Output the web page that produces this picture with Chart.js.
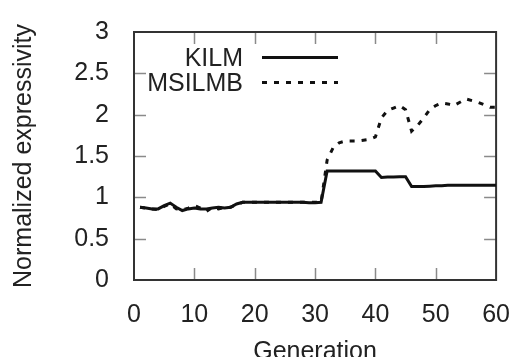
<!DOCTYPE html>
<html>
<head>
<meta charset="utf-8">
<script src="https://cdn.jsdelivr.net/npm/chart.js@4/dist/chart.umd.min.js"></script>
<style>
  html, body { margin: 0; padding: 0; background: #fff; }
  #wrap { width: 522px; height: 357px; position: relative; }
</style>
</head>
<body>
<div id="wrap"><canvas id="c" width="522" height="357"></canvas></div>
<script>
// ---- data ----
const generations = [1,2,3,4,5,6,7,8,9,10,11,12,13,14,15,16,17,18,19,20,
  21,22,23,24,25,26,27,28,29,30,31,32,33,34,35,36,37,38,39,40,
  41,42,43,44,45,46,47,48,49,50,51,52,53,54,55,56,57,58,59,60];
const kilm = [0.88,0.87,0.86,0.86,0.90,0.93,0.88,0.84,0.86,0.87,
  0.86,0.86,0.87,0.88,0.87,0.88,0.92,0.94,0.94,0.94,
  0.94,0.94,0.94,0.94,0.94,0.94,0.94,0.94,0.935,0.935,
  0.94,1.32,1.32,1.32,1.32,1.32,1.32,1.32,1.32,1.32,
  1.24,1.245,1.245,1.25,1.25,1.13,1.13,1.13,1.135,1.14,
  1.14,1.145,1.145,1.145,1.145,1.145,1.145,1.145,1.145,1.145];
const msilmb = [0.88,0.87,0.86,0.85,0.89,0.92,0.86,0.85,0.87,0.90,
  0.87,0.83,0.88,0.86,0.88,0.88,0.91,0.94,0.94,0.94,
  0.94,0.94,0.94,0.94,0.94,0.94,0.94,0.94,0.94,0.94,
  0.94,1.45,1.60,1.66,1.68,1.68,1.68,1.69,1.70,1.73,
  1.96,2.05,2.08,2.11,2.06,1.80,1.87,1.96,2.06,2.11,
  2.14,2.13,2.11,2.15,2.19,2.17,2.15,2.12,2.09,2.09];
const seriesNames = ['KILM', 'MSILMB'];
const xTickValues = [0,10,20,30,40,50,60];
const yTickValues = [0,0.5,1,1.5,2,2.5,3];
const xTitle = 'Generation';
const yTitle = 'Normalized expressivity';

// ---- chart ----
const FONT = "'Liberation Sans', Arial, Helvetica, sans-serif";
const FS = 25;
const toPts = (ys) => generations.map((g, i) => ({x: g, y: ys[i]}));

const framePlugin = {
  id: 'frame',
  beforeDatasetsDraw(chart) {
    const {ctx, chartArea: a, scales: {x, y}} = chart;
    ctx.save();
    ctx.strokeStyle = '#8a8a8a';
    ctx.lineWidth = 1.5;
    const TL = 12;
    ctx.beginPath();
    xTickValues.forEach(v => {
      if (v === x.min || v === x.max) return;
      const px = Math.round(x.getPixelForValue(v)) + 0.5;
      ctx.moveTo(px, a.bottom); ctx.lineTo(px, a.bottom - TL);
      ctx.moveTo(px, a.top); ctx.lineTo(px, a.top + TL);
    });
    yTickValues.forEach(v => {
      if (v === y.min || v === y.max) return;
      const py = Math.round(y.getPixelForValue(v)) + 0.5;
      ctx.moveTo(a.left, py); ctx.lineTo(a.left + TL, py);
      ctx.moveTo(a.right, py); ctx.lineTo(a.right - TL, py);
    });
    ctx.stroke();
    ctx.strokeStyle = '#333';
    ctx.lineWidth = 2;
    ctx.strokeRect(a.left, a.top, a.right - a.left, a.bottom - a.top);
    ctx.restore();
  }
};

const keyPlugin = {
  id: 'key',
  afterDatasetsDraw(chart) {
    const {ctx, chartArea: a} = chart;
    ctx.save();
    ctx.font = FS + 'px ' + FONT;
    ctx.textAlign = 'right';
    ctx.textBaseline = 'middle';
    chart.data.datasets.forEach((ds, i) => {
      const cy = a.top + 27 + i * 25;
      ctx.fillStyle = '#222';
      ctx.fillText(ds.label, a.left + 109, cy);
      ctx.strokeStyle = ds.borderColor;
      ctx.lineWidth = ds.borderWidth;
      ctx.setLineDash(ds.borderDash || []);
      ctx.beginPath();
      ctx.moveTo(a.left + 128, cy - 1.5);
      ctx.lineTo(a.left + 204, cy - 1.5);
      ctx.stroke();
      ctx.setLineDash([]);
    });
    ctx.restore();
  }
};

new Chart(document.getElementById('c'), {
  type: 'line',
  data: {
    datasets: [
      { label: seriesNames[0], data: toPts(kilm), borderColor: '#111', borderWidth: 3,
        pointRadius: 0, tension: 0, fill: false },
      { label: seriesNames[1], data: toPts(msilmb), borderColor: '#111', borderWidth: 3,
        borderDash: [5, 7], pointRadius: 0, tension: 0, fill: false }
    ]
  },
  options: {
    responsive: false,
    animation: false,
    devicePixelRatio: 1,
    layout: { padding: { top: 16, right: 19, left: 0, bottom: 0 } },
    plugins: { legend: { display: false }, tooltip: { enabled: false } },
    scales: {
      x: {
        type: 'linear', min: 0, max: 60,
        afterBuildTicks: s => { s.ticks = xTickValues.map(v => ({value: v})); },
        afterFit: s => { s.height = 77; },
        grid: { display: false },
        border: { display: false },
        ticks: { color: '#222', padding: 12, maxRotation: 0, autoSkip: false,
                 callback: v => String(v),
                 font: { family: FONT, size: FS } },
        title: { display: true, text: xTitle, color: '#222',
                 font: { family: FONT, size: FS, lineHeight: 0.42 }, padding: 0 }
      },
      y: {
        type: 'linear', min: 0, max: 3,
        afterBuildTicks: s => { s.ticks = yTickValues.map(v => ({value: v})); },
        afterFit: s => { s.width = 134; },
        grid: { display: false },
        border: { display: false },
        ticks: { color: '#222', padding: 17, autoSkip: false,
                 callback: v => String(v),
                 font: { family: FONT, size: FS } },
        title: { display: true, text: yTitle, color: '#222',
                 font: { family: FONT, size: FS, lineHeight: 1 },
                 padding: { top: 12, bottom: 0 } }
      }
    }
  },
  plugins: [framePlugin, keyPlugin]
});
</script>
</body>
</html>
